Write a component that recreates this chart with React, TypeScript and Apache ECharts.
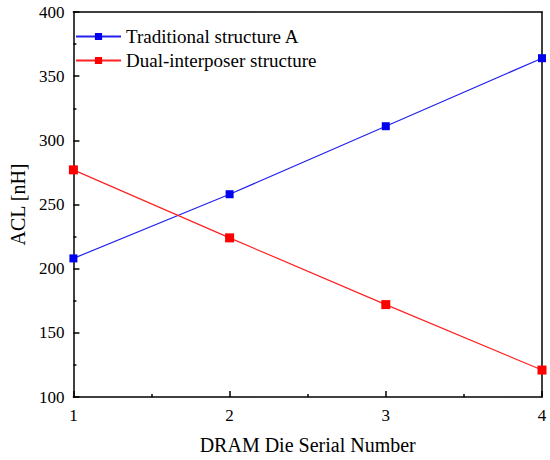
import React, { useEffect, useRef } from "react";
import * as echarts from "echarts";

const categories = [1, 2, 3, 4];
const traditionalA = [208, 258, 311, 364];
const dualInterposer = [277, 224, 172, 121];
const seriesNames = ["Traditional structure A", "Dual-interposer structure"];

const FONT = "Liberation Serif";

export default function App() {
  const ref = useRef<HTMLDivElement>(null);
  useEffect(() => {
    document.body.style.margin = "0";
    if (!ref.current) return;
    const chart = echarts.init(ref.current, undefined, { renderer: "svg" });
    const axisLine = { show: true, lineStyle: { color: "#000", width: 1.5 } };
    chart.setOption({
      animation: false,
      backgroundColor: "#fff",
      textStyle: { fontFamily: FONT },
      grid: { left: 61, right: 8, top: 12, bottom: 61, containLabel: false },
      legend: {
        orient: "vertical",
        left: 70,
        top: 22,
        itemWidth: 45,
        itemHeight: 9,
        itemGap: 5,
        textStyle: { fontFamily: FONT, fontSize: 19, color: "#000" },
        data: seriesNames,
      },
      xAxis: [
        {
          type: "value",
          min: 1,
          max: 4,
          interval: 1,
          position: "bottom",
          axisLine,
          axisTick: { show: true, inside: true, length: 6, lineStyle: { color: "#000", width: 1.5 } },
          minorTick: { show: true, splitNumber: 2, length: 3, lineStyle: { color: "#000", width: 1.5 } },
          axisLabel: { fontFamily: FONT, fontSize: 17, color: "#000", margin: 10 },
          splitLine: { show: false },
          name: "DRAM Die Serial Number",
          nameLocation: "middle",
          nameGap: 38,
          nameTextStyle: { fontFamily: FONT, fontSize: 20, color: "#000" },
        },
        {
          type: "value",
          min: 1,
          max: 4,
          position: "top",
          axisLine,
          axisTick: { show: false },
          axisLabel: { show: false },
          splitLine: { show: false },
        },
      ],
      yAxis: [
        {
          type: "value",
          min: 100,
          max: 400,
          interval: 50,
          position: "left",
          axisLine,
          axisTick: { show: true, inside: true, length: 6, lineStyle: { color: "#000", width: 1.5 } },
          minorTick: { show: true, splitNumber: 2, length: 3, lineStyle: { color: "#000", width: 1.5 } },
          axisLabel: { fontFamily: FONT, fontSize: 17, color: "#000", margin: 9 },
          splitLine: { show: false },
          name: "ACL [nH]",
          nameLocation: "middle",
          nameGap: 38,
          nameTextStyle: { fontFamily: FONT, fontSize: 20, color: "#000" },
        },
        {
          type: "value",
          min: 100,
          max: 400,
          position: "right",
          axisLine,
          axisTick: { show: false },
          axisLabel: { show: false },
          splitLine: { show: false },
        },
      ],
      series: [
        {
          name: seriesNames[0],
          type: "line",
          data: categories.map((c, i) => [c, traditionalA[i]]),
          symbol: "rect",
          symbolSize: 8,
          color: "#0000ee",
          lineStyle: { color: "#2222ee", width: 1.2 },
          itemStyle: { color: "#0000ee" },
          clip: true,
        },
        {
          name: seriesNames[1],
          type: "line",
          data: categories.map((c, i) => [c, dualInterposer[i]]),
          symbol: "rect",
          symbolSize: 9,
          color: "#ff0000",
          lineStyle: { color: "#ff2222", width: 1.2 },
          itemStyle: { color: "#ff0000" },
          clip: true,
        },
      ],
    });
    return () => chart.dispose();
  }, []);
  return <div ref={ref} style={{ position: "fixed", left: 0, top: 0, width: 550, height: 460 }} />;
}
